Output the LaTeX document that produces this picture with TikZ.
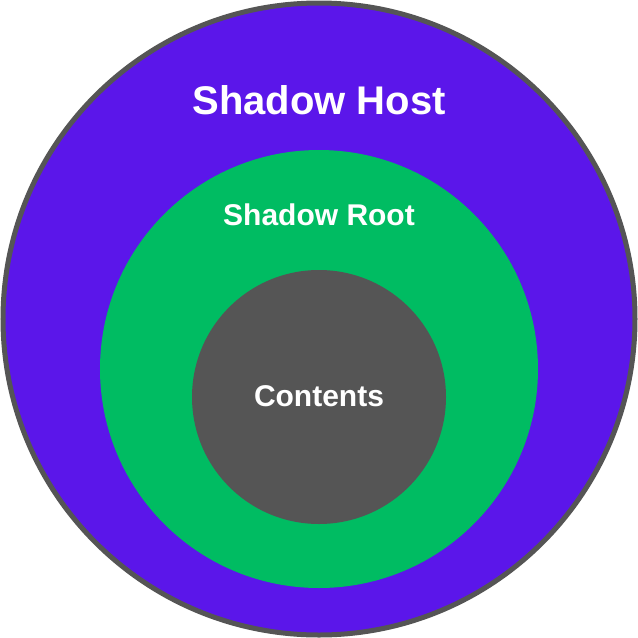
\documentclass[tikz,border=0pt]{standalone}
\usepackage{fontspec}
\setmainfont{Liberation Sans}
\begin{document}
\begin{tikzpicture}[x=1pt,y=-1pt]

% Styles
\tikzset{
    ring/.style={circle, inner sep=0pt, minimum size=#1},
    label/.style={text=white, font=\bfseries}
}
\definecolor{hostpurple}{HTML}{5B16EA}
\definecolor{rootgreen}{HTML}{00BC62}
\definecolor{darkgray}{HTML}{555555}

\useasboundingbox (0,0) rectangle (638,638);

% Circles
\node[ring=632, fill=hostpurple, draw=darkgray, line width=5pt] (host) at (319,319) {};
\node[ring=438, fill=rootgreen] (root) at (319,369) {};
\node[ring=254, fill=darkgray] (cont) at (319,397) {};

% Labels
\node[label, font=\fontsize{40}{44}\selectfont\bfseries] (hostlbl) at (319,100) {Shadow Host};
\node[label, font=\fontsize{30}{34}\selectfont\bfseries] (rootlbl) at (319,215) {Shadow Root};
\node[label, font=\fontsize{30}{34}\selectfont\bfseries] (contlbl) at (319,396) {Contents};

\end{tikzpicture}
\end{document}
